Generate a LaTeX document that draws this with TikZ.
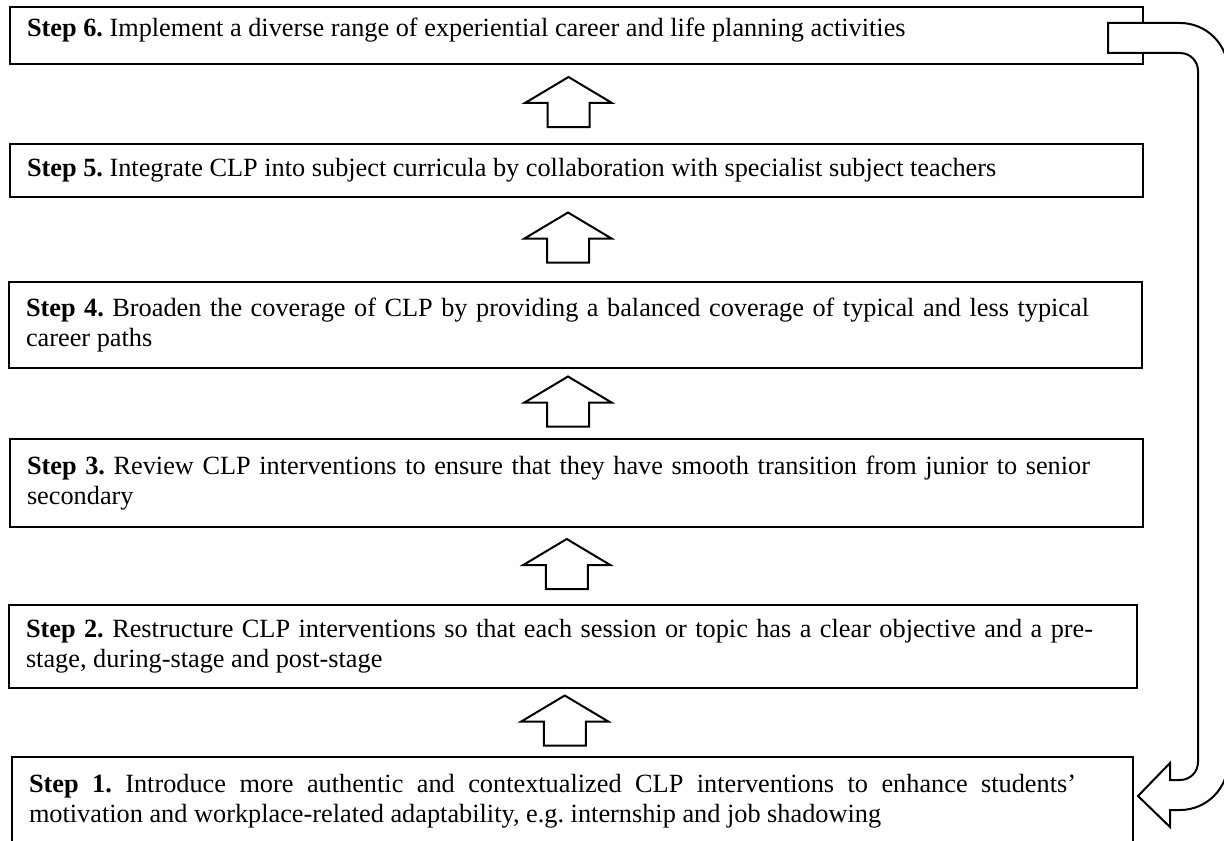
\documentclass[tikz,border=0pt]{standalone}
\usepackage{fontspec}
\setmainfont{Liberation Serif}
\frenchspacing
\usetikzlibrary{calc}

\tikzset{
  stepbox/.style={draw,line width=1pt,anchor=north west,outer sep=0pt,
    align=justify,inner xsep=8.5pt,text width=#1,
    font=\fontsize{13.15}{15}\selectfont},
  rmargin/.style={execute at begin node={\rightskip=#1\relax}},
}
\newcommand{\stepArrow}[1]{%
  \draw[line width=1pt,fill=white] (#1) ++(-21,25) -- ++(0,-24) -- ++(-22.5,0)
    -- ++(43.5,-26) -- ++(43.5,26) -- ++(-22.5,0) -- ++(0,24) -- cycle;}

\begin{document}
\begin{tikzpicture}[x=.5pt,y=-.5pt]
    \useasboundingbox (0,0) rectangle (1224,840);
    \clip (0,0) rectangle (1224,840);
    \node[stepbox=549.5pt,minimum height=28.5pt,text depth=8pt] (s6) at (10,7)
      {\textbf{Step 6.} Implement a diverse range of experiential career and life planning activities};
    \node[stepbox=549.5pt,minimum height=26.5pt] (s5) at (10,144)
      {\textbf{Step 5.} Integrate CLP into subject curricula by collaboration with specialist subject teachers};
    \node[stepbox=549.5pt,rmargin=18pt,minimum height=43pt] (s4) at (9,282)
      {\textbf{Step 4.} Broaden the coverage of CLP by providing a balanced coverage of typical and less typical\linebreak career paths};
    \node[stepbox=549.5pt,rmargin=18pt,minimum height=44pt] (s3) at (10,439)
      {\textbf{Step 3.} Review CLP interventions to ensure that they have smooth transition from junior to senior\linebreak secondary};
    \node[stepbox=547pt,rmargin=13.5pt,minimum height=41.5pt] (s2) at (9,605)
      {\textbf{Step 2.} Restructure CLP interventions so that each session or topic has a clear objective and a pre-\linebreak stage, during-stage and post-stage};
    \node[stepbox=543.5pt,rmargin=20pt,minimum height=44pt] (s1) at (12,757)
      {\textbf{Step 1.} Introduce more authentic and contextualized CLP interventions to enhance students'\linebreak motivation and workplace-related adaptability, e.g. internship and job shadowing};
    \foreach \a/\b in {s6/s5,s5/s4,s4/s3,s3/s2,s2/s1}
      \stepArrow{$(\a.south)!.5!(\b.north)+(-8,-2)$};
    \draw[line width=1pt,fill=white] (1108,23) -- (1180,23)
      .. controls (1206.5,23) and (1228,44.5) .. (1228,71) -- (1228,762)
      .. controls (1228,788.5) and (1206.5,810) .. (1180,810) -- (1170,810)
      -- (1170,827) -- (1138,796) -- (1170,763) -- (1170,780) -- (1180,780)
      .. controls (1190,780) and (1198,772) .. (1198,762) -- (1198,71)
      .. controls (1198,61) and (1190,53) .. (1180,53) -- (1108,53) -- cycle;
  \end{tikzpicture}
\end{document}
